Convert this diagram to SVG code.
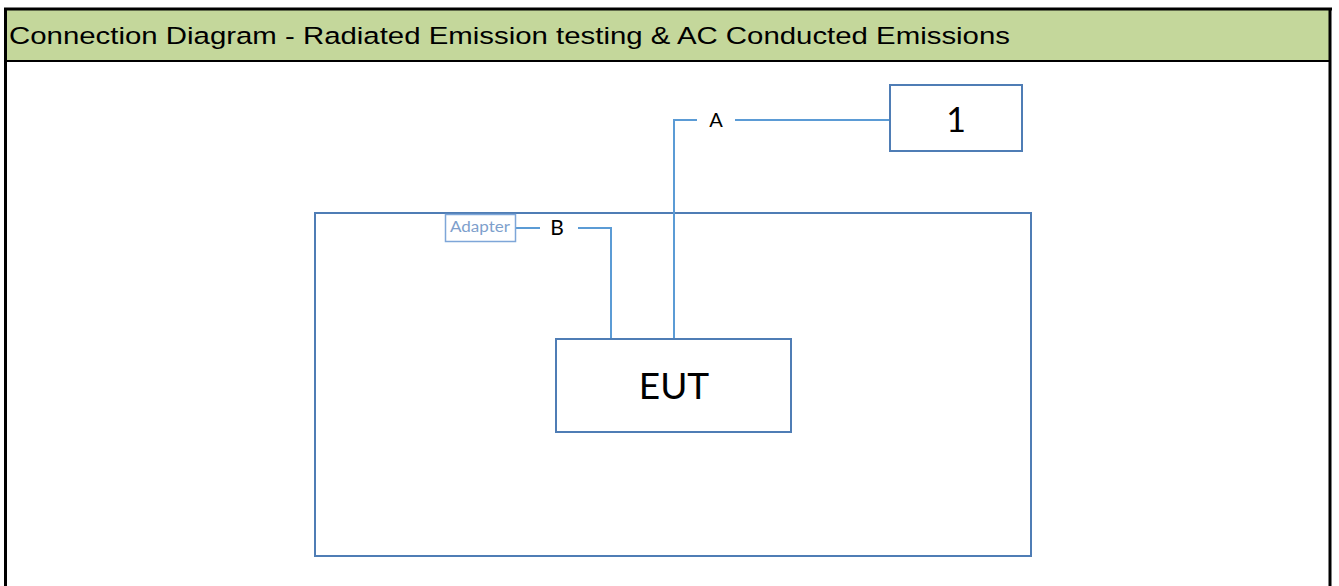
<svg xmlns="http://www.w3.org/2000/svg" width="1339" height="586" viewBox="0 0 1339 586">
<style>
.box{fill:#fff;stroke:#4F7DB5;stroke-width:2}
.conn{fill:none;stroke:#5B9BD5;stroke-width:2}
.lbl{font-family:Lato,"Open Sans",sans-serif;fill:#000}
</style>
<rect width="1339" height="586" fill="#fff"/>
<g id="header">
<rect x="6" y="9" width="1324" height="52" fill="#C4D79B"/>
<line x1="4" y1="9" x2="1332" y2="9" stroke="#000" stroke-width="3"/>
<line x1="5.5" y1="8" x2="5.5" y2="586" stroke="#000" stroke-width="3"/>
<line x1="1330" y1="8" x2="1330" y2="586" stroke="#000" stroke-width="3"/>
<line x1="5" y1="61" x2="1331" y2="61" stroke="#000" stroke-width="2"/>
<text x="9" y="44" font-family="'Liberation Sans',Arial,sans-serif" font-size="24.5" fill="#000" textLength="1001" lengthAdjust="spacingAndGlyphs">Connection Diagram - Radiated Emission testing &amp; AC Conducted Emissions</text>
</g>
<g id="enclosure">
<rect class="box" x="315" y="213" width="716" height="343"/>
</g>
<g id="connectors">
<polyline class="conn" points="515,228 540,228"/>
<polyline class="conn" points="578,228 611,228 611,338"/>
<polyline class="conn" points="674,338 674,120 697,120"/>
<polyline class="conn" points="735,120 890,120"/>
<text class="lbl" x="557" y="235" font-size="21" text-anchor="middle">B</text>
<text class="lbl" x="716" y="127" font-size="20" text-anchor="middle">A</text>
</g>
<g id="adapter">
<rect x="445.5" y="214.5" width="70" height="27" fill="#fff" stroke="#7EA6D8" stroke-width="1.5"/>
<text x="450" y="232" font-family="Lato,'Open Sans',sans-serif" font-size="15.5" fill="#7E9FCC" textLength="60" lengthAdjust="spacingAndGlyphs">Adapter</text>
</g>
<g id="node1">
<rect class="box" x="890" y="85" width="132" height="66"/>
<text class="lbl" x="956" y="132" font-size="34" text-anchor="middle">1</text>
</g>
<g id="eut">
<rect class="box" x="556" y="339" width="235" height="93"/>
<text class="lbl" x="674" y="399" font-size="37" text-anchor="middle">EUT</text>
</g>
</svg>
